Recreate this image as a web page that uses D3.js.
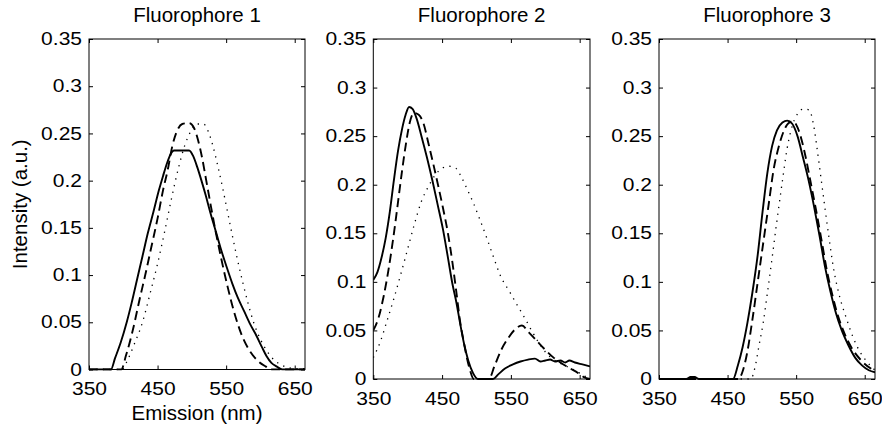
<!DOCTYPE html>
<html>
<head>
<meta charset="utf-8">
<script src="https://cdn.jsdelivr.net/npm/d3@7"></script>
<style>
  body { margin: 0; background: #fff; }
  svg { display: block; font-family: "Liberation Sans", Arial, Helvetica, sans-serif; }
</style>
</head>
<body>
<div id="chart"></div>
<script>
const titles = ['Fluorophore 1', 'Fluorophore 2', 'Fluorophore 3'];
const xTicks = [350, 450, 550, 650];
const yTicks = [0, 0.05, 0.1, 0.15, 0.2, 0.25, 0.3, 0.35];
const yTickLabels = ['0', '0.05', '0.1', '0.15', '0.2', '0.25', '0.3', '0.35'];
const xDomain = [350, 665];
const yDomain = [0, 0.35];
const xLabel = 'Emission (nm)';
const yLabel = 'Intensity (a.u.)';

// [emission nm, intensity]
const f1Solid = [[350, 0], [382, 0], [388, 0.012], [396, 0.028], [405, 0.05], [412, 0.07], [420, 0.095],
  [428, 0.12], [436, 0.145], [444, 0.167], [452, 0.19], [458, 0.205], [464, 0.219], [469, 0.228],
  [474, 0.232], [496, 0.232], [502, 0.226], [508, 0.214], [514, 0.2], [520, 0.185], [527, 0.166],
  [535, 0.146], [543, 0.126], [551, 0.108], [559, 0.091], [567, 0.076], [576, 0.062], [585, 0.048],
  [594, 0.036], [602, 0.024], [609, 0.014], [616, 0.007], [624, 0.003], [632, 0], [665, 0]];
const f1Dashed = [[350, 0], [397, 0], [404, 0.015], [414, 0.042], [424, 0.075], [432, 0.1], [441, 0.13],
  [450, 0.16], [458, 0.19], [465, 0.212], [471, 0.235], [478, 0.252], [486, 0.26], [496, 0.261],
  [503, 0.256], [509, 0.243], [515, 0.224], [521, 0.2], [528, 0.172], [535, 0.145], [543, 0.117],
  [552, 0.088], [562, 0.06], [573, 0.036], [586, 0.018], [598, 0.008], [608, 0.003], [615, 0], [665, 0]];
const f1Dotted = [[350, 0], [398, 0], [405, 0.008], [415, 0.025], [428, 0.05], [440, 0.083], [450, 0.112],
  [460, 0.145], [470, 0.18], [480, 0.212], [490, 0.238], [500, 0.254], [508, 0.26], [517, 0.26],
  [524, 0.252], [531, 0.236], [538, 0.215], [545, 0.192], [552, 0.167], [559, 0.142], [566, 0.118],
  [574, 0.093], [582, 0.07], [590, 0.05], [600, 0.032], [610, 0.019], [620, 0.01], [630, 0.005],
  [640, 0.002], [652, 0.001], [665, 0.001]];

const f2Solid = [[350, 0.102], [356, 0.11], [362, 0.125], [368, 0.145], [374, 0.172], [380, 0.205],
  [386, 0.235], [392, 0.258], [397, 0.272], [402, 0.28], [407, 0.278], [413, 0.268], [420, 0.25],
  [428, 0.228], [436, 0.204], [444, 0.178], [451, 0.155], [458, 0.127], [465, 0.098], [471, 0.078],
  [476, 0.058], [482, 0.036], [488, 0.019], [495, 0.006], [502, 0], [524, 0], [532, 0.005], [542, 0.011],
  [553, 0.015], [564, 0.018], [575, 0.02], [585, 0.021], [593, 0.018], [600, 0.019], [607, 0.02],
  [614, 0.018], [622, 0.019], [629, 0.017], [635, 0.019], [643, 0.017], [654, 0.015], [665, 0.013]];
const f2Dashed = [[350, 0.05], [358, 0.064], [365, 0.085], [372, 0.112], [379, 0.145], [385, 0.177],
  [391, 0.21], [397, 0.24], [403, 0.264], [409, 0.274], [416, 0.272], [423, 0.263], [430, 0.243],
  [437, 0.222], [444, 0.2], [451, 0.177], [458, 0.152], [465, 0.12], [471, 0.088], [476, 0.06],
  [481, 0.04], [486, 0.022], [491, 0.008], [496, 0], [518, 0], [526, 0.013], [536, 0.03], [546, 0.042],
  [556, 0.051], [566, 0.055], [576, 0.048], [588, 0.039], [600, 0.03], [612, 0.022], [624, 0.016],
  [636, 0.011], [648, 0.006], [656, 0.002], [665, 0]];
const f2Dotted = [[350, 0.022], [360, 0.038], [370, 0.06], [380, 0.083], [390, 0.108], [400, 0.134],
  [410, 0.16], [420, 0.183], [430, 0.198], [440, 0.21], [450, 0.217], [460, 0.219], [470, 0.217],
  [478, 0.208], [486, 0.196], [495, 0.182], [505, 0.164], [515, 0.145], [525, 0.125], [535, 0.106],
  [548, 0.09], [560, 0.075], [570, 0.063], [580, 0.05], [590, 0.038], [600, 0.028], [612, 0.02],
  [625, 0.015], [640, 0.01], [655, 0.004], [665, 0]];

const f3Solid = [[350, 0], [390, 0], [396, 0.002], [402, 0.002], [408, 0], [458, 0], [465, 0.014],
  [472, 0.033], [479, 0.058], [486, 0.088], [494, 0.128], [501, 0.172], [508, 0.212], [515, 0.24],
  [522, 0.256], [530, 0.264], [537, 0.266], [544, 0.263], [552, 0.25], [560, 0.228], [568, 0.205],
  [576, 0.178], [584, 0.148], [592, 0.116], [600, 0.09], [608, 0.068], [616, 0.051], [626, 0.035],
  [636, 0.022], [646, 0.014], [656, 0.009], [665, 0.007]];
const f3Dashed = [[350, 0], [466, 0], [472, 0.008], [478, 0.025], [486, 0.06], [494, 0.1], [502, 0.14],
  [510, 0.18], [517, 0.215], [525, 0.24], [533, 0.257], [540, 0.264], [546, 0.265], [552, 0.259],
  [558, 0.246], [564, 0.228], [571, 0.203], [579, 0.174], [587, 0.143], [595, 0.111], [603, 0.086],
  [611, 0.065], [621, 0.046], [631, 0.032], [645, 0.019], [665, 0.008]];
const f3Dotted = [[350, 0], [484, 0], [490, 0.012], [496, 0.035], [502, 0.058], [508, 0.088], [515, 0.125],
  [522, 0.163], [530, 0.204], [537, 0.238], [545, 0.262], [553, 0.274], [561, 0.278], [569, 0.277],
  [575, 0.263], [580, 0.24], [586, 0.208], [592, 0.176], [598, 0.145], [605, 0.112], [613, 0.086],
  [623, 0.063], [633, 0.043], [643, 0.028], [653, 0.018], [665, 0.009]];

const width = 882;
const height = 425;
const frames = [
  { left: 89, top: 39, w: 216, h: 330.5 },
  { left: 373.3, top: 39, w: 216.7, h: 340 },
  { left: 659, top: 39, w: 216, h: 340 },
];
const styles = {
  solid: { width: 1.9, dash: null },
  dashed: { width: 1.9, dash: '9,5' },
  dotted: { width: 1.3, dash: '1.3,5.5' },
};
const panels = [
  { title: titles[0], series: { solid: f1Solid, dashed: f1Dashed, dotted: f1Dotted }, labels: true },
  { title: titles[1], series: { solid: f2Solid, dashed: f2Dashed, dotted: f2Dotted }, labels: false },
  { title: titles[2], series: { solid: f3Solid, dashed: f3Dashed, dotted: f3Dotted }, labels: false },
];

const tickFont = 17.5;
const labelFont = 20.5;
const stretch = 1.2;

const svg = d3.select('#chart')
  .append('svg')
  .attr('width', width)
  .attr('height', height);

function widen(sel) {
  sel.each(function () {
    const len = this.getComputedTextLength();
    d3.select(this)
      .attr('textLength', len * stretch)
      .attr('lengthAdjust', 'spacingAndGlyphs');
  });
}

panels.forEach((p, i) => {
  const f = frames[i];
  const x = d3.scaleLinear().domain(xDomain).range([0, f.w]);
  const y = d3.scaleLinear().domain(yDomain).range([f.h, 0]);
  const g = svg.append('g').attr('transform', `translate(${f.left},${f.top})`);

  g.append('clipPath')
    .attr('id', `clip${i}`)
    .append('rect')
    .attr('x', 0).attr('y', -2)
    .attr('width', f.w).attr('height', f.h + 3);

  const line = d3.line()
    .x((d) => x(d[0]))
    .y((d) => y(d[1]))
    .curve(d3.curveMonotoneX);

  Object.entries(p.series).forEach(([key, data]) => {
    g.append('path')
      .datum(data)
      .attr('clip-path', `url(#clip${i})`)
      .attr('d', line)
      .attr('fill', 'none')
      .attr('stroke', '#000')
      .attr('stroke-width', styles[key].width)
      .attr('stroke-dasharray', styles[key].dash)
      .attr('stroke-linejoin', 'round');
  });

  // inward ticks on all four sides
  const left = g.append('g')
    .call(d3.axisLeft(y).tickValues(yTicks).tickSizeInner(-4).tickSizeOuter(0).tickPadding(7)
      .tickFormat((d, k) => yTickLabels[k]));
  g.append('g').attr('transform', `translate(${f.w},0)`)
    .call(d3.axisRight(y).tickValues(yTicks).tickSizeInner(-4).tickSizeOuter(0).tickFormat(''));
  const bottom = g.append('g').attr('transform', `translate(0,${f.h})`)
    .call(d3.axisBottom(x).tickValues(xTicks).tickSizeInner(-4).tickSizeOuter(0).tickPadding(13.3)
      .tickFormat(d3.format('d')));
  g.append('g')
    .call(d3.axisTop(x).tickValues(xTicks).tickSizeInner(-4).tickSizeOuter(0).tickFormat(''));

  g.selectAll('.domain').remove();
  g.selectAll('.tick line').attr('stroke', '#000').attr('stroke-width', 1);
  [left, bottom].forEach((a) => a.selectAll('text')
    .attr('fill', '#000')
    .style('font-size', `${tickFont}px`)
    .style('font-family', '"Liberation Sans", Arial, Helvetica, sans-serif')
    .call(widen));

  g.append('rect')
    .attr('width', f.w)
    .attr('height', f.h)
    .attr('fill', 'none')
    .attr('stroke', '#000')
    .attr('stroke-width', 1);

  g.append('text')
    .attr('x', f.w / 2)
    .attr('y', 22 - f.top)
    .attr('text-anchor', 'middle')
    .style('font-size', `${labelFont}px`)
    .text(p.title);

  if (p.labels) {
    g.append('text')
      .attr('x', f.w / 2)
      .attr('y', 420 - f.top)
      .attr('text-anchor', 'middle')
      .style('font-size', `${labelFont}px`)
      .text(xLabel);
    g.append('text')
      .attr('transform', `translate(${27 - f.left},${f.h / 2}) rotate(-90)`)
      .attr('text-anchor', 'middle')
      .style('font-size', `${labelFont}px`)
      .text(yLabel);
  }
});
</script>
</body>
</html>
